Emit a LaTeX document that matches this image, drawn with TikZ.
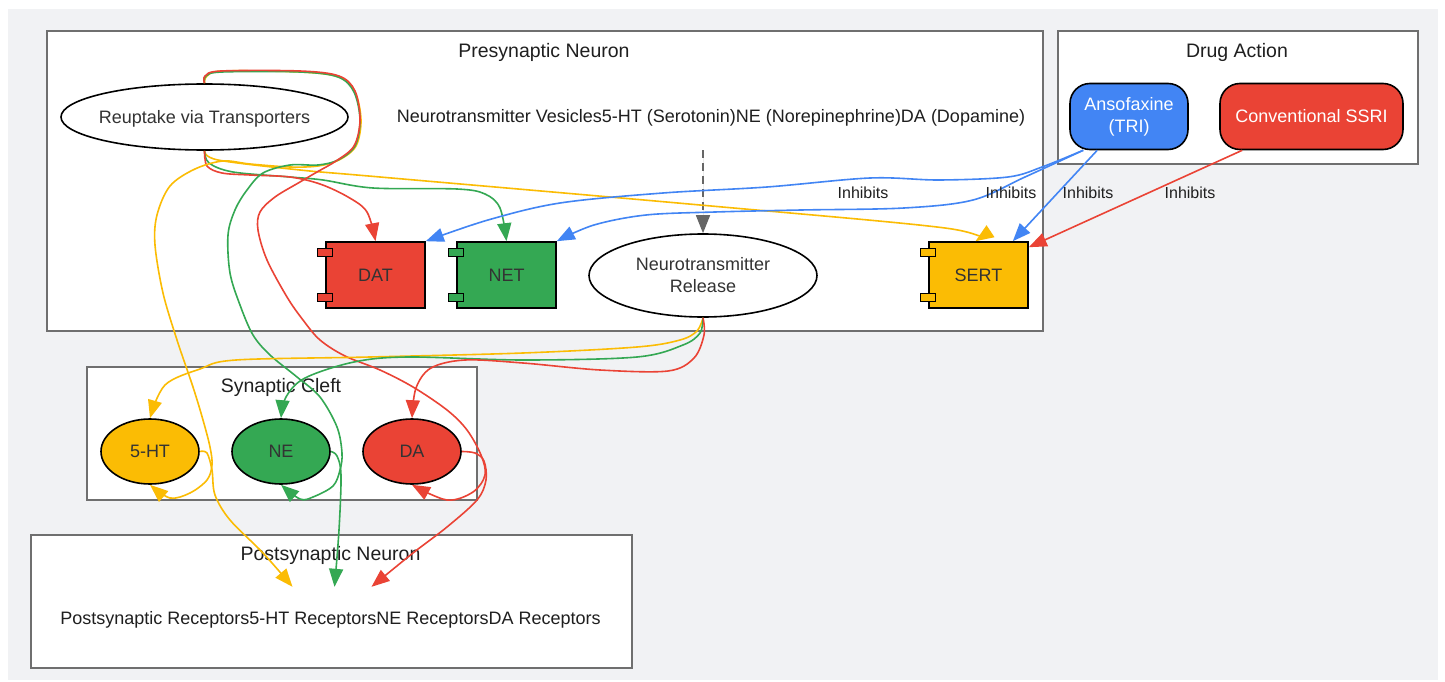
\documentclass[tikz,border=0pt]{standalone}
\usepackage{fontspec}
\setmainfont{Liberation Sans}
\usetikzlibrary{shapes.geometric,arrows.meta,calc}
\definecolor{gbg}{HTML}{F1F2F4}
\definecolor{clgray}{HTML}{6F6F6F}
\definecolor{gred}{HTML}{EA4335}
\definecolor{ggreen}{HTML}{34A853}
\definecolor{gyellow}{HTML}{FBBC04}
\definecolor{gblue}{HTML}{4285F4}
\definecolor{txt}{HTML}{333333}
\definecolor{dgray}{HTML}{666666}
\begin{document}
\begin{tikzpicture}[x=1pt,y=-1pt,
  cluster/.style={draw=clgray, line width=1.6pt, fill=white, inner sep=0pt, anchor=north west},
  ctitle/.style={font=\fontsize{19.5}{23}\selectfont, text=black!88},
  nfont/.style={font=\fontsize{18}{22}\selectfont},
  comp/.style={nfont, draw=black, line width=1.6pt, minimum width=99pt, minimum height=66pt, inner sep=0pt, text=txt},
  tabst/.style={draw=black, line width=1.3pt},
  ell/.style={ellipse, nfont, draw=black, line width=1.6pt, inner sep=0pt, text=txt, align=center},
  drug/.style={nfont, draw=black, line width=1.6pt, rounded corners=20pt, text=white, align=center, inner sep=0pt, minimum height=66pt},
  plain/.style={nfont, text=black!88, inner sep=0pt, minimum height=66pt},
  lbl/.style={font=\fontsize{16}{19}\selectfont, text=black!88, inner sep=0pt},
  edge/.style={line width=1.6pt, -{Triangle[length=18pt,width=14pt]}},
  sm/.style={smooth, tension=0.55}
]
\useasboundingbox (0,0) rectangle (1445,682);
\fill[white] (0,0) rectangle (1445,682);
\fill[gbg] (8,9) rectangle (1438,680);

% clusters
\node[cluster, minimum width=996pt, minimum height=300pt] (pre) at (46,30) {};
\node[cluster, minimum width=360pt, minimum height=133pt] (drugbox) at (1057,30) {};
\node[cluster, minimum width=390pt, minimum height=133pt] (cleft) at (86,366) {};
\node[cluster, minimum width=601pt, minimum height=133pt] (post) at (30,534) {};
\node[ctitle] (pretitle) at (544,52) {Presynaptic Neuron};
\node[ctitle] (drugtitle) at (1237,52) {Drug Action};
\node[ctitle] (clefttitle) at (281,387) {Synaptic Cleft};
\node[ctitle] (posttitle) at (330.5,555) {Postsynaptic Neuron};

% nodes
\node[ell, minimum width=287pt, minimum height=66pt] (reup) at (204.5,117) {};
\node[nfont, text=txt, inner sep=0pt] (reuptext) at (204.5,118.5) {Reuptake via Transporters};
\node[plain] (ves) at (711,118) {Neurotransmitter Vesicles5-HT (Serotonin)NE (Norepinephrine)DA (Dopamine)};
\node[comp, fill=gred] (dat) at (375.5,275) {DAT};
\node[comp, fill=ggreen] (net) at (506.5,275) {NET};
\node[comp, fill=gyellow] (sert) at (978.5,275) {SERT};
\node[ell, minimum width=228pt, minimum height=83pt] (rel) at (703,275.5) {Neurotransmitter\\Release};
\node[drug, fill=gblue, minimum width=118pt] (ans) at (1129,116.5) {Ansofaxine\\(TRI)};
\node[drug, fill=gred, minimum width=183pt] (ssri) at (1311.5,116.5) {Conventional SSRI};
\node[ell, fill=gyellow, minimum width=98pt, minimum height=65pt] (ht) at (150,451.5) {5-HT};
\node[ell, fill=ggreen, minimum width=98pt, minimum height=65pt] (ne) at (281,451.5) {NE};
\node[ell, fill=gred, minimum width=98pt, minimum height=65pt] (da) at (412,451.5) {DA};
\node[plain] (rec) at (330.5,620) {Postsynaptic Receptors5-HT ReceptorsNE ReceptorsDA Receptors};

% component tabs
\foreach \n/\c in {dat/gred, net/ggreen, sert/gyellow}{
  \draw[tabst, fill=\c] ($(\n.north west)+(-7.5,7)$) rectangle +(15,8);
  \draw[tabst, fill=\c] ($(\n.south west)+(-7.5,-15)$) rectangle +(15,8);
}

% dashed vesicles -> release
\draw[edge, draw=dgray, fill=dgray, dash pattern=on 8pt off 5pt] ([yshift=1pt]ves.south -| rel.north) -- (rel.north);

% reuptake -> transporters
\draw[edge, gyellow] plot[sm] coordinates {(reup.south) (218,160) (300,170) (380,177) (700,205) (945,228) ([xshift=-3pt]sert.north)};
\draw[edge, ggreen] plot[sm] coordinates {(reup.south) (209,163) (233,172) (290,177) (323,180) (373,188) (457,189) (485,194) (500,208) (net.north)};
\draw[edge, gred] plot[sm] coordinates {(reup.south) (207,166) (222,173) (250,175) (290,177) (320,184) (348,197) (367,212) (dat.north)};

% reuptake -> cleft (over the top)
\draw[edge, gyellow] plot[sm] coordinates {(reup.north) (207,76) (223,71) (300,72) (339,77) (355,92) (361,120) (356,146) (339,160) (318,166) (290,167) (250,164) (223,161) (195,169) (170,186) (157,215) (155,245) (163,293) (177,340) (193,387) (203,420) (210,447) (212,465) (207,480) (190,493) (170,498) (ht.south)};
\draw[edge, ggreen] plot[sm] coordinates {(reup.north) (206,76) (222,72) (300,72) (338,77) (354,92) (360,120) (355,146) (338,160) (318,165) (290,165) (263,173) (247,190) (235,210) (228,235) (230,273) (240,305) (253,335) (270,355) (297,377) (320,397) (337,427) (342,453) (340,470) (333,486) (313,497) (300,499) (ne.south)};
\draw[edge, gred] plot[sm] coordinates {(reup.north) (205,76) (221,71) (300,71) (339,76) (355,91) (360,120) (354,146) (336,161) (317,172) (300,182) (275,197) (260,212) (258,230) (267,260) (287,297) (303,320) (320,340) (345,356) (380,370) (413,387) (447,410) (467,430) (481,455) (485,475) (473,492) (447,500) (da.south)};

% release -> cleft
\draw[edge, gyellow] plot[sm] coordinates {(rel.south) (697,331) (680,340) (637,347) (523,353) (370,357) (236,360) (200,369) (165,385) (ht.north)};
\draw[edge, ggreen] plot[sm] coordinates {(rel.south) (700,333) (683,345) (637,357) (523,360) (408,357) (354,362) (305,378) (286,397) (ne.north)};
\draw[edge, gred] plot[sm] coordinates {(rel.south) (704,335) (694,358) (668,371) (600,370) (523,363) (465,360) (431,368) (416,388) (da.north)};

% cleft -> receptors
\draw[edge, gyellow] plot[sm] coordinates {(ht.east) (207,453) (212,470) (215,495) (230,520) (263,553) ($(rec.north)+(-38,0)$)};
\draw[edge, ggreen] plot[sm] coordinates {(ne.east) (337,456) (341,475) (339,530) ($(rec.north)+(4,0)$)};
\draw[edge, gred] plot[sm] coordinates {(da.east) (475,453) (484,461) (486,480) (477,500) (447,527) (413,553) ($(rec.north)+(41,0)$)};

% drug actions
\draw[edge, gblue] plot[sm] coordinates {([xshift=14pt]ans.south west) (1042,167) (1008,177) (939,180) (870,178) (767,187) (663,193) (560,203) (488,220) (dat.north east)};
\draw[edge, gblue] plot[sm] coordinates {([xshift=14pt]ans.south west) (1025,177) (973,200) (904,208) (801,210) (715,212) (646,215) (594,225) (net.north east)};
\draw[edge, gblue] ([xshift=28pt]ans.south west) -- ([xshift=-16pt]sert.north east);
\draw[edge, gred] ([xshift=23pt]ssri.south west) -- ([yshift=-6pt]sert.north east);

\node[lbl] (l1) at (863,193) {Inhibits};
\node[lbl] (l2) at (1011,193) {Inhibits};
\node[lbl] (l3) at (1088,193) {Inhibits};
\node[lbl] (l4) at (1190,193) {Inhibits};
\end{tikzpicture}
\end{document}
